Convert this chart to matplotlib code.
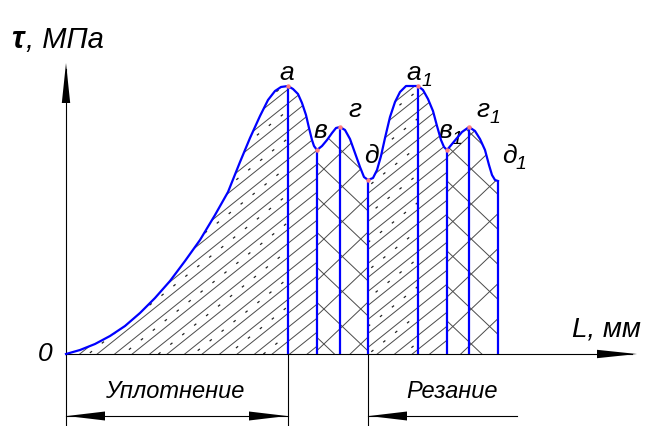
import numpy as np
import matplotlib
matplotlib.use("Agg")
import matplotlib.pyplot as plt
from matplotlib.patches import Polygon
from matplotlib.collections import LineCollection

plt.rcParams["lines.scale_dashes"] = False
FONT = ["Liberation Sans", "DejaVu Sans"]

# Shear stress curve tau(L) (arbitrary units along both axes)
curve_L = [0, 14, 29, 44, 59, 74, 89, 104, 119, 134, 149, 162, 174, 184, 194, 202,
           209, 215, 222, 227, 232, 236, 240, 243, 246, 248, 251, 256, 261, 266,
           270, 274, 279, 284, 289, 294, 298, 302, 307, 311, 315, 319, 324, 329,
           334, 340, 352, 357, 362, 367, 371, 375, 378, 381, 386, 391, 396, 403,
           409, 414, 419, 423, 426, 429, 432]
curve_tau = [0, 4, 10, 18, 28, 41, 56, 73, 93, 114, 139, 162, 192, 216, 238, 254,
             263, 267, 268, 265, 260, 251, 239, 226, 214, 208, 204, 208, 214, 221,
             226, 227, 224, 215, 201, 187, 177, 174, 176, 184, 198, 216, 237, 252,
             262, 268, 268, 264, 255, 243, 228, 214, 207, 204, 210, 216, 222, 227,
             223, 215, 204, 189, 179, 174, 173]

# Characteristic points
point_L = [222, 251, 274, 302, 352, 381, 403, 432]
point_tau = [268, 204, 227, 174, 268, 204, 227, 173]
point_names = ["а", "в", "г", "д", "а", "в", "г", "д"]
point_subs = ["", "", "", "", "1", "1", "1", "1"]

# Hatched zones between the characteristic points
zone_edges = [0, 222, 251, 302, 352, 381, 432]
zone_kind = ["/.", "/", "x", "/.", "/", "x"]

# Stage dimensions
stage_names = ["Уплотнение", "Резание"]
stage_from = [0, 302]
stage_to = [222, 451]

fig = plt.figure(figsize=(6.45, 4.26), dpi=100)
ax = fig.add_axes([0, 0, 1, 1])
ax.set_xlim(-66, 579)
ax.set_ylim(-72, 354)
ax.axis("off")

L = np.array(curve_L, float)
T = np.array(curve_tau, float)


def zone_patch(u0, u1):
    m = (L >= u0) & (L <= u1)
    pts = list(zip(L[m], T[m])) + [(u1, 0), (u0, 0)]
    p = Polygon(pts, closed=True, fill=False, edgecolor="none")
    ax.add_patch(p)
    return p


def hatch_lines(u0, u1, slope, step, phase):
    vmax = T.max() + 10
    cmin = min(-slope * u1, -slope * u0) - step
    cmax = max(vmax - slope * u0, vmax - slope * u1) + step
    ks = np.arange(np.floor((cmin - phase) / step), np.ceil((cmax - phase) / step) + 1)
    cs = ks * step + phase
    segs = [[(u0, slope * u0 + c), (u1, slope * u1 + c)] for c in cs]
    return segs, cs


for (u0, u1, kind) in zip(zone_edges[:-1], zone_edges[1:], zone_kind):
    patch = zone_patch(u0, u1)
    if kind.startswith("/"):
        segs, cs = hatch_lines(u0, u1, 0.8, 14.0, 3.0)
        lc = LineCollection(segs, colors="#4a4a4a", linewidths=0.7)
        lc.set_clip_path(patch)
        ax.add_collection(lc)
        if kind == "/.":
            for i, c in enumerate(cs[::2]):
                cm = c + 7.0
                ln, = ax.plot([u0, u1], [0.8 * u0 + cm, 0.8 * u1 + cm],
                              color="#222222", lw=0.9,
                              linestyle=((i * 4.0) % 12, (2.0, 9.0)))
                ln.set_clip_path(patch)
    else:
        for s in (0.95, -0.95):
            segs, _ = hatch_lines(u0, u1, s, 35.0, 10.0)
            lc = LineCollection(segs, colors="#4a4a4a", linewidths=0.7)
            lc.set_clip_path(patch)
            ax.add_collection(lc)

# Curve and ordinates
ax.plot(curve_L, curve_tau, color="#0000ff", lw=1.6, solid_joinstyle="round", zorder=5)
ax.vlines(point_L, 0, point_tau, color="#0000ff", lw=1.6, zorder=5)
ax.plot(point_L[:-1], point_tau[:-1], "o", color="#ff7f7f", ms=3.2, mec="none", zorder=6)

# Axes with drafting arrows
ax.plot([0, 0], [-72, 285], color="black", lw=0.8)
ax.plot([0, 566], [0, 0], color="black", lw=0.8)


def arrow_head(tip, direction, length=40, half=4.2):
    tx, ty = tip
    dx, dy = direction
    bx, by = tx - dx * length, ty - dy * length
    nx, ny = -dy, dx
    tri = Polygon([(tx, ty), (bx + nx * half, by + ny * half), (bx - nx * half, by - ny * half)],
                  closed=True, color="black", lw=0)
    ax.add_patch(tri)


arrow_head((0, 291), (0, 1))
arrow_head((571, 0), (1, 0))

# Extension lines and stage dimensions
for u in (222, 302):
    ax.plot([u, u], [0, -72], color="black", lw=0.8)
dim_v = -62
stage_text_x = [109, 386]
for name, a, b, tx in zip(stage_names, stage_from, stage_to, stage_text_x):
    ax.plot([a, b], [dim_v, dim_v], color="black", lw=0.8)
    arrow_head((a + 1, dim_v), (-1, 0), length=38, half=4.5)
    if name == "Уплотнение":
        arrow_head((b - 1, dim_v), (1, 0), length=38, half=4.5)
    ax.text(tx, -38, name, family=FONT, style="italic", fontsize=17,
            ha="center", va="center")

# Axis titles
ax.text(-55, 306, "τ", family=FONT, weight="bold", style="italic", fontsize=22,
        ha="left", va="baseline")
ax.text(-40, 306, ", МПа", family=FONT, style="italic", fontsize=21,
        ha="left", va="baseline")
ax.text(506, 17, "L, мм", family=FONT, style="italic", fontsize=20,
        ha="left", va="baseline")
ax.text(-21, 0, "0", family=FONT, style="italic", fontsize=19, ha="center", va="center")

# Point labels
label_pos = [(221, 274), (254, 216), (289, 237), (305, 191),
             (348, 274), (379, 216), (417, 237), (443, 191)]
for (x, y), n, sub in zip(label_pos, point_names, point_subs):
    ax.text(x, y, n, family=FONT, style="italic", fontsize=19,
            ha="center", va="baseline")
    if sub:
        ax.text(x + 7, y - 6, sub, family=FONT, style="italic", fontsize=14,
                ha="left", va="baseline")

fig.savefig("out.png", dpi=100, facecolor="white")
